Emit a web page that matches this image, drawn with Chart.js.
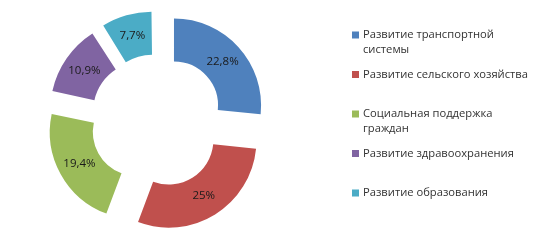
<!DOCTYPE html>
<html>
<head>
<meta charset="utf-8">
<script src="https://cdn.jsdelivr.net/npm/chart.js@4"></script>
<style>
  html, body { margin: 0; padding: 0; background: #fff; }
  #wrap { width: 533px; height: 246px; position: relative; }
</style>
</head>
<body>
<div id="wrap"><canvas id="myChart"></canvas></div>
<script>
// данные диаграммы
const categories = [
  ["Развитие транспортной", "системы"],
  ["Развитие сельского хозяйства"],
  ["Социальная поддержка", "граждан"],
  ["Развитие здравоохранения"],
  ["Развитие образования"]
];
const shares = [22.8, 25, 19.4, 10.9, 7.7];
const colors = ["#4F81BD", "#C0504D", "#9BBB59", "#8064A2", "#4BACC6"];

const SHIFT = 23; // how far each slice is pulled out, px

// labels inside the slices
const sliceLabels = {
  id: "sliceLabels",
  afterDatasetsDraw(chart) {
    const c = chart.ctx;
    const meta = chart.getDatasetMeta(0);
    c.save();
    c.font = "11.5px 'Open Sans'";
    c.fillStyle = "#1a1a1a";
    c.textAlign = "center";
    c.textBaseline = "middle";
    meta.data.forEach((arc, i) => {
      const a = (arc.startAngle + arc.endAngle) / 2;
      const r = (arc.innerRadius + arc.outerRadius) / 2 + SHIFT;
      const txt = String(shares[i]).replace(".", ",") + "%";
      c.fillText(txt, arc.x + Math.cos(a) * r, arc.y + Math.sin(a) * r);
    });
    c.restore();
  }
};

// legend on the right, with wrapped lines
const sideLegend = {
  id: "sideLegend",
  afterDraw(chart) {
    const c = chart.ctx;
    c.save();
    c.font = "11.2px 'Open Sans'";
    c.textBaseline = "middle";
    categories.forEach((lines, i) => {
      const y = 35 + i * 39.5;
      c.fillStyle = colors[i];
      c.fillRect(352, y - 3.5, 7, 7);
      c.fillStyle = "#333333";
      lines.forEach((ln, j) => c.fillText(ln, 363, y + j * 15));
    });
    c.restore();
  }
};

document.addEventListener("DOMContentLoaded", function () {
  const ctx = document.getElementById("myChart").getContext("2d");
  const total = shares.reduce((s, v) => s + v, 0);
  new Chart(ctx, {
    type: "doughnut",
    data: {
      labels: categories.map(l => l.join(" ")),
      datasets: [{
        data: shares,
        backgroundColor: colors,
        borderWidth: 0,
        hoverOffset: 0,
        // chart.js pushes thin slices further out, compensate for it
        offset: (c) => {
          const circ = shares[c.dataIndex] / total * 2 * Math.PI;
          const fix = 1 - Math.sin(Math.min(Math.PI, circ));
          return 4 * SHIFT / (1 + fix);
        }
      }]
    },
    options: {
      responsive: true,
      maintainAspectRatio: false,
      animation: false,
      events: [],
      radius: 87,
      cutout: "50.5%",
      layout: { padding: { left: 0, right: 219, top: 0, bottom: 4 } },
      plugins: {
        legend: { display: false },
        tooltip: { enabled: false }
      }
    },
    plugins: [sliceLabels, sideLegend]
  });
});
</script>
</body>
</html>
